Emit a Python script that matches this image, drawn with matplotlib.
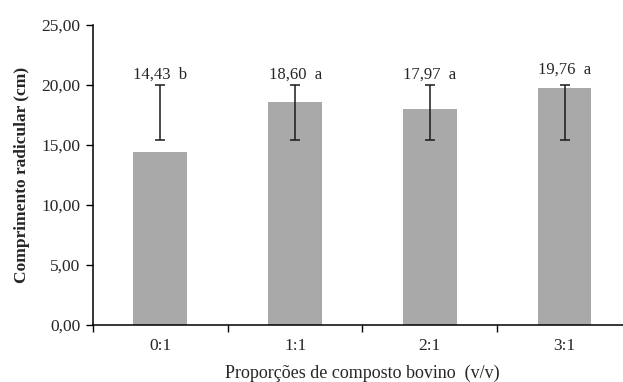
import matplotlib
matplotlib.use("Agg")
import matplotlib.pyplot as plt
import numpy as np

# proportions of bovine compost and root length
categories = ["0:1", "1:1", "2:1", "3:1"]
means = [14.43, 18.60, 17.97, 19.76]
letters = ["b", "a", "a", "a"]
err_low = [15.45, 15.45, 15.45, 15.45]
err_high = [20.0, 20.0, 20.0, 20.0]

plt.rcParams["font.family"] = ["Liberation Serif", "DejaVu Serif"]
txt = "#262626"

fig = plt.figure(figsize=(6.23, 3.82), dpi=100)
ax = fig.add_axes([0.1493, 0.149, 0.865, 0.7853])

x = np.arange(len(categories))
ax.bar(x, means, width=0.4, color="#a9a9a9", zorder=2)

# error bars drawn from low to high
centre = [(lo + hi) / 2 for lo, hi in zip(err_low, err_high)]
half = [(hi - lo) / 2 for lo, hi in zip(err_low, err_high)]
ax.errorbar(x, centre, yerr=half, fmt="none", ecolor="#1a1a1a",
            elinewidth=1.1, capsize=3.6, capthick=1.1, zorder=3)

for i in range(len(categories)):
    lab = ("%.2f" % means[i]).replace(".", ",") + "  " + letters[i]
    y = max(means[i] + 1.5, err_high[i] + 0.9)
    ax.text(x[i], y, lab, ha="center", va="center", fontsize=12, color=txt)

ax.set_xlim(-0.5, 3.5)
ax.set_ylim(0, 25)
ax.set_yticks([0, 5, 10, 15, 20, 25])
ax.set_yticklabels([("%.2f" % v).replace(".", ",") for v in [0, 5, 10, 15, 20, 25]],
                   fontsize=12.5, color=txt)
ax.set_xticks([-0.5, 0.5, 1.5, 2.5])
ax.set_xticklabels([])
ax.set_xticks(x, minor=True)
ax.set_xticklabels(categories, minor=True, fontsize=12.5, color=txt)
ax.tick_params(axis="x", which="major", length=5, width=1, direction="out")
ax.tick_params(axis="x", which="minor", length=0, pad=9)
ax.tick_params(axis="y", length=5, width=1, direction="out", pad=4)

ax.spines["top"].set_visible(False)
ax.spines["right"].set_visible(False)
ax.spines["left"].set_linewidth(1.1)
ax.spines["bottom"].set_linewidth(1.1)

ax.set_ylabel("Comprimento radicular (cm)", fontsize=12.5, fontweight="bold", color=txt,
              labelpad=8)
ax.set_xlabel("Proporções de composto bovino  (v/v)", fontsize=13, color=txt, labelpad=8)

fig.savefig("out.png", dpi=100)
